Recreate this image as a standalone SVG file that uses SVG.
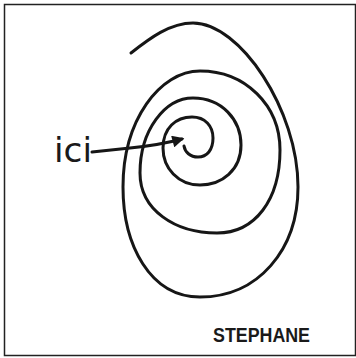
<svg xmlns="http://www.w3.org/2000/svg" width="356" height="358" viewBox="0 0 356 358">
<style>
.ink{fill:none;stroke:#161616;stroke-width:3;stroke-linecap:round;stroke-linejoin:round}
.hand{fill:#1a1a1a;font-family:"DejaVu Sans",sans-serif}
</style>
<defs>
<marker id="ah" viewBox="0 0 10 10" refX="8" refY="5" markerWidth="4.5" markerHeight="4" orient="auto" markerUnits="strokeWidth">
<path d="M0,0 L10,5 L0,10 Z" fill="#161616"/>
</marker>
</defs>
<rect x="0" y="0" width="356" height="358" fill="#fff"/>
<rect x="4.5" y="4.5" width="351" height="351" fill="none" stroke="#222" stroke-width="1.5"/>
<g id="spiral">
<path class="ink" d="M131,53 C150,38 170,23 193,23 C240,23 298,110 298,187 C298,250 258,297 200,297 C150,297 123,245 123,187 C123,120 160,71 200,71 C245,71 280,105 280,150 C280,200 255,233 217,233 C175,233 140,210 140,173 C140,130 165,98 193,98 C222,98 241,120 241,145 C241,170 222,185 200,185 C178,185 163,168 163,148 C163,128 176,117 192,117 C205,117 213,126 213,138 C213,150 207,157 198,157 C190,157 185,152 184,146"/>
</g>
<g id="connectors">
<path class="ink" d="M92,152 L130,148 Q160,145 182,139" marker-end="url(#ah)"/>
</g>
<g id="label-ici">
<text class="hand" x="54" y="162" font-size="34" textLength="38" lengthAdjust="spacingAndGlyphs">ici</text>
</g>
<g id="signature">
<text x="213" y="342" font-family="Liberation Sans Narrow,Liberation Sans,sans-serif" font-size="21" font-weight="bold" fill="#1a1a1a" textLength="97" lengthAdjust="spacingAndGlyphs">STEPHANE</text>
</g>
</svg>
